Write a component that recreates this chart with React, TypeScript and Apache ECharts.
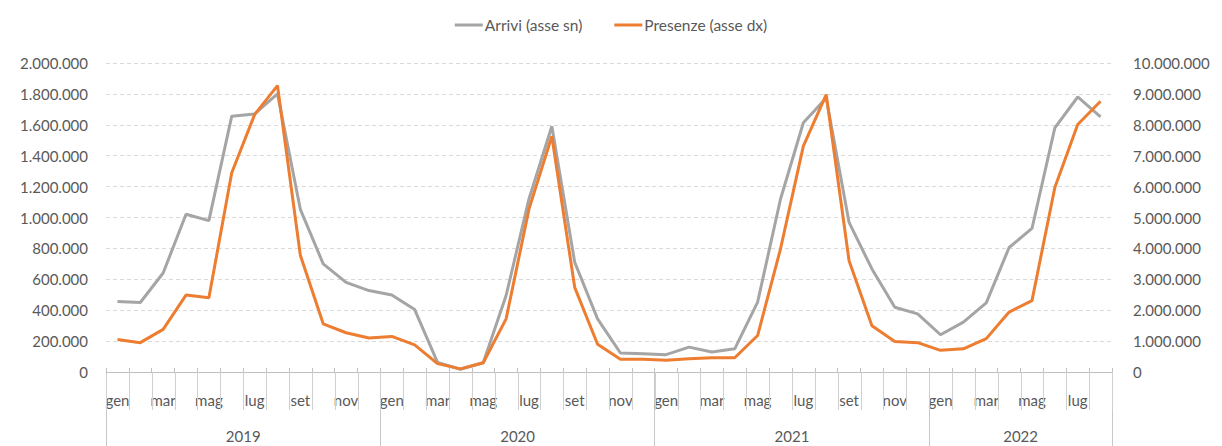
import React, { useEffect, useRef } from "react";
import * as echarts from "echarts";

const monthNames = ["gen", "feb", "mar", "apr", "mag", "giu", "lug", "ago", "set", "ott", "nov", "dic"];
const years = ["2019", "2020", "2021", "2022"];
const monthsPerYear = [12, 12, 12, 8];

// Arrivi (left axis)
const arrivi = [
  456000, 450000, 641000, 1021000, 980000, 1656000, 1670000, 1800000, 1053000, 700000, 580000, 527000,
  499000, 404000, 62000, 18000, 60000, 495000, 1120000, 1591000, 710000, 344000, 123000, 118000,
  112000, 161000, 129000, 150000, 452000, 1118000, 1613000, 1774000, 968000, 667000, 419000, 376000,
  241000, 323000, 447000, 806000, 929000, 1580000, 1780000, 1651000,
];

// Presenze (right axis)
const presenze = [
  1050000, 950000, 1380000, 2490000, 2400000, 6450000, 8330000, 9270000, 3780000, 1560000, 1270000, 1100000,
  1150000, 880000, 270000, 100000, 300000, 1720000, 5270000, 7630000, 2740000, 900000, 410000, 410000,
  380000, 430000, 460000, 460000, 1180000, 3980000, 7310000, 8980000, 3600000, 1500000, 990000, 950000,
  700000, 750000, 1080000, 1940000, 2310000, 5970000, 8010000, 8760000,
];

const seriesNames = ["Arrivi (asse sn)", "Presenze (asse dx)"];

const categories: string[] = [];
years.forEach((y, yi) => {
  for (let m = 0; m < monthsPerYear[yi]; m++) categories.push(monthNames[m]);
});

const yearStarts: number[] = [];
const yearMidIdx: Record<number, string> = {};
{
  let s = 0;
  years.forEach((y, yi) => {
    yearStarts.push(s);
    yearMidIdx[s + monthsPerYear[yi] / 2] = y;
    s += monthsPerYear[yi];
  });
}

const fmt = (v: number) => String(Math.round(v)).replace(/\B(?=(\d{3})+(?!\d))/g, ".");

const FONT = "Lato";
const TXT = "#595959";

export default function App() {
  const ref = useRef<HTMLDivElement>(null);
  useEffect(() => {
    if (!ref.current) return;
    const chart = echarts.init(ref.current, undefined, { renderer: "svg" });
    const bandHalf = 11.4;
    const lastIdx = categories.length - 1;
    chart.setOption({
      animation: false,
      textStyle: { fontFamily: FONT, color: TXT },
      legend: {
        top: 12,
        left: "center",
        itemWidth: 28,
        itemHeight: 3,
        itemGap: 32,
        icon: "rect",
        textStyle: { fontFamily: FONT, fontSize: 15.5, color: TXT, padding: [0, 0, 0, -3] },
        data: [
          { name: seriesNames[0], itemStyle: { color: "#a5a5a5" } },
          { name: seriesNames[1], itemStyle: { color: "#ed7d31" } },
        ],
      },
      grid: [
        { left: 106, right: 110, top: 63, bottom: 74, containLabel: false },
        { left: 106, right: 110, top: 372, height: 38, containLabel: false },
      ],
      xAxis: [
        {
          type: "category",
          gridIndex: 0,
          data: categories,
          boundaryGap: true,
          position: "bottom",
          axisLine: { show: true, lineStyle: { color: "#bfbfbf", width: 1 } },
          axisTick: { show: true, inside: true, length: 4, interval: 0, lineStyle: { color: "#bfbfbf", width: 1 } },
          axisLabel: { interval: 1, fontFamily: FONT, fontSize: 15, color: TXT, margin: 20 },
          splitLine: { show: false },
        },
        {
          type: "category",
          gridIndex: 0,
          data: categories,
          boundaryGap: true,
          position: "bottom",
          offset: 0,
          axisLine: { show: false },
          axisTick: {
            show: true,
            length: 74,
            interval: (i: number) => yearStarts.includes(i),
            lineStyle: { color: "#c8c8c8" },
          },
          axisLabel: {
            show: true,
            margin: 56,
            interval: (i: number) => yearMidIdx[i] !== undefined,
            formatter: (_v: string, i: number) => `{y|${yearMidIdx[i] ?? ""}}`,
            rich: {
              y: { fontFamily: FONT, fontSize: 15, color: TXT, padding: [0, bandHalf * 2, 0, 0] },
            },
          },
        },
        {
          type: "category",
          gridIndex: 1,
          data: categories,
          boundaryGap: true,
          position: "top",
          axisLine: { show: false },
          axisTick: { show: false },
          axisLabel: { show: false },
          splitLine: { show: false },
        },
      ],
      yAxis: [
        {
          type: "value",
          gridIndex: 0,
          min: 0,
          max: 2000000,
          interval: 200000,
          axisLine: { show: false },
          axisTick: { show: false },
          axisLabel: { formatter: fmt, fontFamily: FONT, fontSize: 15, color: TXT, margin: 18 },
          splitLine: { show: true, lineStyle: { color: "#d9d9d9", type: [4, 3], width: 1 } },
        },
        {
          type: "value",
          gridIndex: 0,
          min: 0,
          max: 10000000,
          interval: 1000000,
          position: "right",
          axisLine: { show: false },
          axisTick: { show: false },
          axisLabel: { formatter: fmt, fontFamily: FONT, fontSize: 15, color: TXT, margin: 21 },
          splitLine: { show: false },
        },
        {
          type: "value",
          gridIndex: 1,
          show: false,
          min: 0,
          max: 1,
          splitLine: { show: false },
        },
      ],
      series: [
        {
          name: seriesNames[0],
          type: "line",
          yAxisIndex: 0,
          xAxisIndex: 0,
          data: arrivi,
          symbol: "none",
          lineStyle: { color: "#a5a5a5", width: 3 },
          itemStyle: { color: "#a5a5a5" },
        },
        {
          name: seriesNames[1],
          type: "line",
          yAxisIndex: 1,
          xAxisIndex: 0,
          data: presenze,
          symbol: "none",
          lineStyle: { color: "#ed7d31", width: 3 },
          itemStyle: { color: "#ed7d31" },
        },
        {
          name: "dividers",
          type: "custom",
          xAxisIndex: 2,
          yAxisIndex: 2,
          silent: true,
          clip: false,
          encode: { x: 0, y: 1 },
          data: categories.map((_c, i) => [i, 0]),
          renderItem: (params: any, api: any) => {
            const idx = api.value(0);
            const c = api.coord([idx, 0]);
            const w = api.size([1, 0])[0];
            const top = params.coordSys.y;
            const h = params.coordSys.height;
            const style = { stroke: "#d0d0d0", lineWidth: 1 };
            const xl = Math.round(c[0] - w / 2) + 0.5;
            const children: any[] = [
              { type: "line", shape: { x1: xl, y1: top, x2: xl, y2: top + h }, style },
            ];
            if (idx === lastIdx) {
              const xr = Math.round(c[0] + w / 2) + 0.5;
              children.push({ type: "line", shape: { x1: xr, y1: top, x2: xr, y2: top + h }, style });
            }
            return { type: "group", children };
          },
        },
      ],
    });
    return () => chart.dispose();
  }, []);
  return <div ref={ref} style={{ position: "fixed", left: 0, top: 0, width: 1222, height: 446, background: "#fff" }} />;
}
